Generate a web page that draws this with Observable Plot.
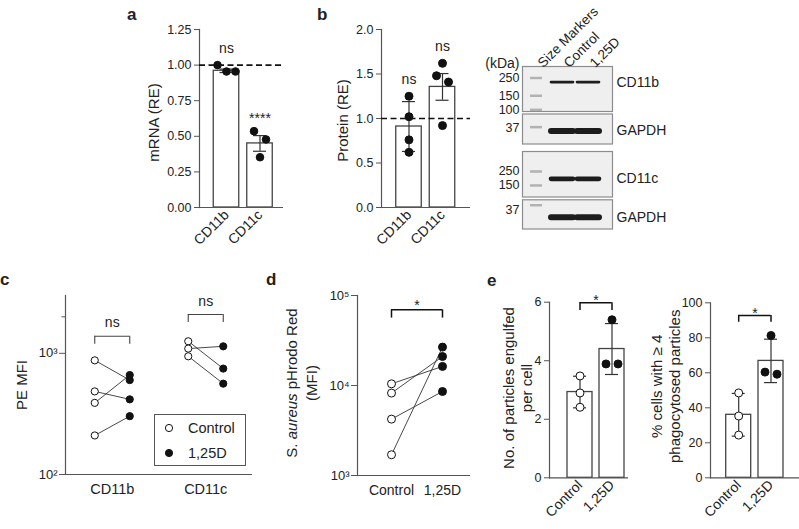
<!DOCTYPE html>
<html><head><meta charset="utf-8">
<script src="https://cdn.jsdelivr.net/npm/d3@7"></script>
<script src="https://cdn.jsdelivr.net/npm/@observablehq/plot@0.6"></script>
<style>
html,body{margin:0;padding:0;background:#fff;}
#root{position:relative;width:799px;height:529px;overflow:hidden;font-family:'Liberation Sans',Arial,Helvetica,sans-serif;color:#222;}
.letter{position:absolute;font-weight:bold;font-size:17px;line-height:17px;}
.blot g[aria-label="tick"] line{filter:blur(0.6px);}
</style></head><body><div id="root"></div>
<script>
// ---------- data ----------
const aCats = ["CD11b", "CD11c"];
const aMean = [0.96, 0.45];
const aErr = [0.012, 0.055];
const aPoints = [[1.0, 0.955, 0.955], [0.536, 0.478, 0.353]];
const aSig = ["ns", "****"];
const aRef = 1;

const bCats = ["CD11b", "CD11c"];
const bMean = [0.91, 1.355];
const bErr = [0.28, 0.15];
const bPoints = [[1.25, 1.02, 0.76, 0.62], [1.62, 1.48, 1.41, 0.92]];
const bSig = ["ns", "ns"];
const bRef = 1;

const blotLanes = ["Size Markers", "Control", "1,25D"];
const blotProteins = ["CD11b", "GAPDH", "CD11c", "GAPDH"];
const blotBandKDa = [222, 33.5, 191, 29.6];
const blotMarkerKDa = [[250, 150, 100], [38], [250, 150], [44]];
const blotLadderLabels = [[250, 150, 100], [37], [250, 150], [37]];

const cCats = ["CD11b", "CD11c"];
const cGroups = ["Control", "1,25D"];
const cControl = [[875, 485, 390, 210], [1257, 1094, 945]];
const cTreated = [[601, 417, 662, 303], [748, 1142, 562]];
const cBracketTop = [1382, 2090];
const cBracketLeg = [1187, 1795];
const cSig = ["ns", "ns"];

const dGroups = ["Control", "1,25D"];
const dControl = [10440, 8240, 4230, 1700];
const dTreated = [16300, 21000, 8580, 26700];
const dBracket = [69300, 56100];
const dSig = "*";

const eGroups = ["Control", "1,25D"];
const e1Mean = [2.93, 4.40];
const e1Err = [0.54, 0.87];
const e1Points = [[3.48, 2.90, 2.41], [5.40, 3.89, 3.89]];
const e1Bracket = [5.98, 5.72];
const e2Mean = [36.0, 66.8];
const e2Err = [12.2, 12.4];
const e2Points = [[48.5, 35.3, 24.4], [81.3, 60.4, 59.2]];
const e2Bracket = [92.7, 88.9];
const eSig = "*";

// ---------- helpers ----------
const FONT = "'Liberation Sans', Arial, Helvetica, sans-serif";
const INK = "#222", AX = "#555";
const root = document.getElementById("root");
function put(el, left, top) {
  el.style.position = "absolute"; el.style.left = left + "px"; el.style.top = top + "px";
  root.appendChild(el); return el;
}
const STYLE = {fontFamily: FONT, fontSize: "12.5px", color: INK, background: "transparent", overflow: "visible"};
const SUP = "⁰¹²³⁴⁵⁶⁷⁸⁹";
const sup10 = d => "10" + SUP[Math.round(Math.log10(d))];

function clusterOffsets(vals, ppu, thresh) {
  const idx = vals.map((v, i) => i).sort((a, b) => vals[b] - vals[a]);
  const clusters = []; let cur = [idx[0]];
  for (let k = 1; k < idx.length; k++) {
    if ((vals[idx[k - 1]] - vals[idx[k]]) * ppu < thresh) cur.push(idx[k]);
    else { clusters.push(cur); cur = [idx[k]]; }
  }
  clusters.push(cur);
  const off = new Array(vals.length).fill(0);
  for (const c of clusters) {
    const n = c.length, s = n > 2 ? 9 : 12;
    c.sort((a, b) => a - b).forEach((i, k) => off[i] = (k - (n - 1) / 2) * s);
  }
  return off;
}

function barPanel(o) {
  const [mt, mr, mb, ml] = o.margin;
  const ppu = (o.height - mt - mb) / (o.yDomain[1] - o.yDomain[0]);
  const unit = o.centers[1] - o.centers[0];
  const bh = o.barHalf / unit, wh = 6.5 / unit;
  const bars = o.cats.map((c, i) => ({i, mean: o.mean[i], lo: o.mean[i] - o.err[i], hi: o.mean[i] + o.err[i], top: Math.max(...o.points[i])}));
  const dots = [];
  o.points.forEach((ps, i) => {
    const off = clusterOffsets(ps, ppu, 9);
    ps.forEach((v, k) => dots.push({x: i + off[k] / unit, y: v, i}));
  });
  const marks = [
    Plot.rect(bars, {x1: d => d.i - bh, x2: d => d.i + bh, y1: 0, y2: "mean", fill: "white", stroke: "#444", strokeWidth: 1.3}),
    Plot.ruleY([o.yDomain[0]], {stroke: AX, strokeWidth: 1.2}),
    Plot.frame({anchor: "left", stroke: AX, strokeWidth: 1.2}),
    Plot.axisY({ticks: o.yTicks, tickFormat: d3.format(o.fmt), tickSize: 5, tickPadding: 3, fontSize: 12.5, stroke: AX, label: null}),
    Plot.axisX({ticks: o.cats.map((c, i) => i), tickFormat: i => o.cats[i], tickRotate: -45, tickSize: 0, tickPadding: 5, fontSize: 14, label: null})
  ];
  if (o.ref != null) marks.push(Plot.ruleY([o.ref], {stroke: "#111", strokeWidth: 1.7, strokeDasharray: "6,3.5"}));
  marks.push(
    Plot.ruleX(bars, {x: "i", y1: "lo", y2: "hi", stroke: "#333", strokeWidth: 1.2}),
    Plot.ruleY(bars, {y: "lo", x1: d => d.i - wh, x2: d => d.i + wh, stroke: "#333", strokeWidth: 1.2}),
    Plot.ruleY(bars, {y: "hi", x1: d => d.i - wh, x2: d => d.i + wh, stroke: "#333", strokeWidth: 1.2})
  );
  o.open.forEach((open, gi) => {
    marks.push(Plot.dot(dots.filter(d => d.i === gi), {x: "x", y: "y", r: o.r, fill: open ? "white" : "#111", stroke: "#111", strokeWidth: 1}));
  });
  if (o.sig) {
    bars.forEach((b, i) => {
      const lab = o.sig[i], star = /^\*+$/.test(lab);
      marks.push(Plot.text([b], {x: "i", y: "top", text: () => lab, lineAnchor: "bottom", dy: -(16 - (star ? 0.57 : 0.26) * 14), fontSize: 14}));
    });
  }
  if (o.bracket) {
    const B = {top: o.bracket[0], leg: o.bracket[1]};
    marks.push(
      Plot.ruleY([B], {y: "top", x1: 0, x2: 1, stroke: "#111", strokeWidth: 1.5}),
      Plot.ruleX([0, 1].map(x => ({x, ...B})), {x: "x", y1: "top", y2: "leg", stroke: "#111", strokeWidth: 1.5}),
      Plot.text([B], {x: 0.5, y: "top", text: () => o.bracketLabel, lineAnchor: "bottom", dy: o.starDy, fontSize: 14})
    );
  }
  marks.push(Plot.text([o.yLabel], {text: d => d, frameAnchor: "left", dx: o.labelDx, dy: o.labelDy, rotate: -90, textAnchor: "middle", fontSize: 15, lineHeight: 1.2}));
  const svg = Plot.plot({
    width: o.width, height: o.height, marginTop: mt, marginRight: mr, marginBottom: mb, marginLeft: ml,
    x: {domain: [0, 1], range: o.centers},
    y: {domain: o.yDomain},
    style: STYLE, marks
  });
  put(svg, o.left, o.top);
}

// ---------- panel a ----------
barPanel({left: 100, top: 0, width: 190, height: 260, margin: [29, 7, 53, 99],
  centers: [126, 159.5], barHalf: 12.75, cats: aCats, mean: aMean, err: aErr, points: aPoints,
  yDomain: [0, 1.25], yTicks: [0, 0.25, 0.5, 0.75, 1, 1.25], fmt: ".2f", ref: aRef, sig: aSig,
  open: [false, false], r: 3.8, yLabel: "mRNA (RE)", labelDx: -46, labelDy: 4});

// ---------- panel b (chart) ----------
barPanel({left: 290, top: 0, width: 190, height: 260, margin: [29, 10, 53, 91],
  centers: [118.5, 152], barHalf: 12.75, cats: bCats, mean: bMean, err: bErr, points: bPoints,
  yDomain: [0, 2], yTicks: [0, 0.5, 1, 1.5, 2], fmt: ".1f", ref: bRef, sig: bSig,
  open: [false, false], r: 4, yLabel: "Protein (RE)", labelDx: -39, labelDy: 2});

// ---------- panel b (blots) ----------
const blotLayout = [
  {top: 0, height: 113, mt: 66, domain: [95.3, 348], bandW: 2.6},
  {top: 111, height: 34.5, mt: 2.5, domain: [21.8, 58.6], bandW: 6},
  {top: 149, height: 49.5, mt: 2, domain: [98.4, 519], bandW: 4.6},
  {top: 197, height: 33.5, mt: 2.3, domain: [20.1, 52.6], bandW: 6}
];
blotLayout.forEach((L, bi) => {
  const markers = blotMarkerKDa[bi].map(k => ({lane: blotLanes[0], kDa: k}));
  const bands = blotLanes.slice(1).map(l => ({lane: l, kDa: blotBandKDa[bi]}));
  const marks = [
    Plot.frame({fill: "#efefef", stroke: "#8c8c8c", strokeWidth: 1.2}),
    Plot.tickY(markers, {x: "lane", y: "kDa", stroke: "#b2b2b2", strokeWidth: 2.5, insetLeft: 7, insetRight: 7}),
    Plot.tickY(bands, {x: "lane", y: "kDa", stroke: "#1d1d1d", strokeWidth: L.bandW, insetLeft: 2, insetRight: 2, strokeLinecap: "round"}),
    Plot.axisY({ticks: blotLadderLabels[bi], tickFormat: d => String(d), tickSize: 0, tickPadding: 3, fontSize: 12.5, label: null}),
    Plot.text([{name: blotProteins[bi], kDa: blotBandKDa[bi]}], {text: "name", y: "kDa", frameAnchor: "right", dx: 4, textAnchor: "start", fontSize: 14})
  ];
  if (bi === 0) {
    marks.push(
      Plot.text(blotLanes, {x: d => d, text: d => d, frameAnchor: "top", dy: -5, rotate: -45, textAnchor: "start", fontSize: 13.5}),
      Plot.text(["(kDa)"], {text: d => d, frameAnchor: "top-left", dx: -3, dy: -8, textAnchor: "end", fontSize: 14})
    );
  }
  const svg = Plot.plot({
    width: 200, height: L.height, marginTop: L.mt, marginBottom: 2, marginLeft: 42, marginRight: 68,
    x: {type: "band", domain: blotLanes, range: [42, 122], padding: 0, axis: null},
    y: {type: "log", domain: L.domain},
    style: STYLE, marks
  });
  svg.classList.add("blot");
  put(svg, 480, L.top);
});

// ---------- panel c ----------
{
  const unit = 93.5, g = 17.5 / unit;
  const pts = [];
  cCats.forEach((c, i) => cControl[i].forEach((v, k) => {
    pts.push({pair: c + k, x: i - g, y: v, grp: 0});
    pts.push({pair: c + k, x: i + g, y: cTreated[i][k], grp: 1});
  }));
  const br = cCats.map((c, i) => ({i, top: cBracketTop[i], leg: cBracketLeg[i], label: cSig[i]}));
  const legs = br.flatMap(b => [{...b, x: b.i - g}, {...b, x: b.i + g}]);
  const svg = Plot.plot({
    width: 265, height: 269, marginTop: 35, marginRight: 13, marginBottom: 55, marginLeft: 65,
    x: {domain: [-0.5, 1.5]}, y: {type: "log", domain: [100, 3000]},
    style: STYLE,
    marks: [
      Plot.ruleY([100], {stroke: AX, strokeWidth: 1.2}),
      Plot.frame({anchor: "left", stroke: AX, strokeWidth: 1.2}),
      Plot.axisY({ticks: [100, 1000], tickFormat: sup10, tickSize: 6, tickPadding: 2, fontSize: 13, stroke: AX, label: null}),
      Plot.axisY({ticks: [2000], tickFormat: () => "", tickSize: 3.5, stroke: AX, label: null}),
      Plot.axisX({ticks: [0, 1], tickFormat: i => cCats[i], tickSize: 0, tickPadding: 9, fontSize: 14.5, label: null}),
      Plot.line(pts, {x: "x", y: "y", z: "pair", stroke: "#333", strokeWidth: 0.9}),
      Plot.dot(pts.filter(d => d.grp === 0), {x: "x", y: "y", r: 3.6, fill: "white", stroke: "#111", strokeWidth: 1}),
      Plot.dot(pts.filter(d => d.grp === 1), {x: "x", y: "y", r: 3.6, fill: "#111", stroke: "#111", strokeWidth: 1}),
      Plot.ruleY(br, {y: "top", x1: d => d.i - g, x2: d => d.i + g, stroke: "#444", strokeWidth: 1.1}),
      Plot.ruleX(legs, {x: "x", y1: "top", y2: "leg", stroke: "#444", strokeWidth: 1.1}),
      Plot.text(br, {x: "i", y: "top", text: "label", lineAnchor: "bottom", dy: -9, fontSize: 14}),
      Plot.text(["PE MFI"], {text: d => d, frameAnchor: "left", dx: -43, dy: 0, rotate: -90, textAnchor: "middle", fontSize: 15})
    ]
  });
  put(svg, 0, 260);

  // legend
  const lg = document.createElement("div");
  lg.style.cssText = "width:90px;height:50px;border:1px solid #555;background:#fff;font-size:14.5px;";
  cGroups.forEach((name, k) => {
    const row = document.createElement("div");
    row.style.cssText = `position:absolute;left:8px;top:${4 + k * 25}px;height:18px;line-height:18px;white-space:nowrap;`;
    row.innerHTML = `<svg width="12" height="18" style="vertical-align:top;margin-right:13px"><circle cx="6" cy="9" r="3.6" fill="${k ? "#111" : "#fff"}" stroke="#111" stroke-width="1"/></svg>${name}`;
    lg.appendChild(row);
  });
  put(lg, 154, 414);
}

// ---------- panel d ----------
{
  const pts = [];
  dControl.forEach((v, k) => {
    pts.push({pair: k, x: 0, y: v, grp: 0});
    pts.push({pair: k, x: 1, y: dTreated[k], grp: 1});
  });
  const B = {top: dBracket[0], leg: dBracket[1]};
  const svg = Plot.plot({
    width: 205, height: 269, marginTop: 35, marginRight: 5, marginBottom: 54, marginLeft: 87,
    x: {domain: [0, 1], range: [121, 172]}, y: {type: "log", domain: [1000, 100000]},
    style: STYLE,
    marks: [
      Plot.ruleY([1000], {stroke: AX, strokeWidth: 1.2}),
      Plot.frame({anchor: "left", stroke: AX, strokeWidth: 1.2}),
      Plot.axisY({ticks: [1000, 10000, 100000], tickFormat: sup10, tickSize: 6, tickPadding: 2, fontSize: 13, stroke: AX, label: null}),
      Plot.axisX({ticks: [0, 1], tickFormat: i => dGroups[i], tickSize: 0, tickPadding: 10, fontSize: 14, label: null}),
      Plot.line(pts, {x: "x", y: "y", z: "pair", stroke: "#333", strokeWidth: 0.9}),
      Plot.dot(pts.filter(d => d.grp === 0), {x: "x", y: "y", r: 4, fill: "white", stroke: "#111", strokeWidth: 1}),
      Plot.dot(pts.filter(d => d.grp === 1), {x: "x", y: "y", r: 4, fill: "#111", stroke: "#111", strokeWidth: 1}),
      Plot.ruleY([B], {y: "top", x1: 0, x2: 1, stroke: "#111", strokeWidth: 1.5}),
      Plot.ruleX([0, 1].map(x => ({x, ...B})), {x: "x", y1: "top", y2: "leg", stroke: "#111", strokeWidth: 1.5}),
      Plot.text([B], {x: 0.5, y: "top", text: () => dSig, lineAnchor: "bottom", dy: 0, fontSize: 14})
    ]
  });
  put(svg, 270, 260);
  const dl = document.createElement("div");
  dl.style.cssText = "width:200px;height:40px;line-height:20px;text-align:center;font-size:15px;transform:rotate(-90deg);white-space:nowrap;";
  dl.innerHTML = "S. <i>aureus</i> pHrodo Red<br>(MFI)";
  put(dl, 202, 363);
}

// ---------- panel e ----------
barPanel({left: 480, top: 260, width: 160, height: 269, margin: [41.7, 12, 51.7, 69],
  centers: [99.5, 131.5], barHalf: 12.5, cats: eGroups, mean: e1Mean, err: e1Err, points: e1Points,
  yDomain: [0, 6], yTicks: [0, 2, 4, 6], fmt: "d", ref: null, sig: null,
  bracket: e1Bracket, bracketLabel: eSig, starDy: 2,
  open: [true, false], r: 4, yLabel: "No. of particles engulfed\nper cell", labelDx: -32.5, labelDy: -2});

barPanel({left: 640, top: 260, width: 159, height: 269, margin: [42.3, 0, 51.7, 70],
  centers: [98.2, 130.5], barHalf: 12.5, cats: eGroups, mean: e2Mean, err: e2Err, points: e2Points,
  yDomain: [0, 100], yTicks: [0, 20, 40, 60, 80, 100], fmt: "d", ref: null, sig: null,
  bracket: e2Bracket, bracketLabel: eSig, starDy: 2,
  open: [true, false], r: 4, yLabel: "% cells with ≥ 4\nphagocytosed particles", labelDx: -45, labelDy: -4});

// ---------- panel letters ----------
[["a", 127, 20], ["b", 317, 20.5], ["c", 0, 285], ["d", 266, 285], ["e", 487, 286]].forEach(([t, x, base]) => {
  const el = document.createElement("div");
  el.className = "letter"; el.textContent = t;
  put(el, x, base - 14.4);
});
</script></body></html>
